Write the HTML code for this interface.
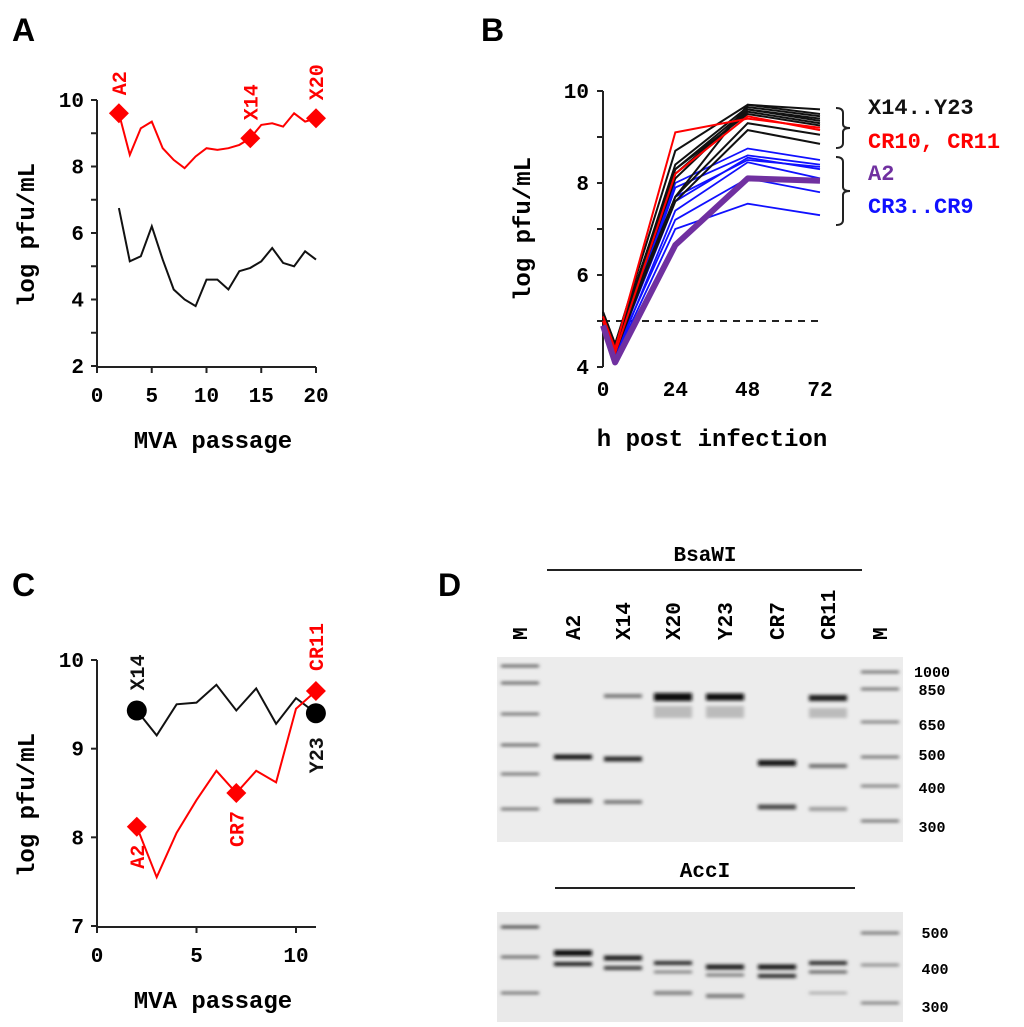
<!DOCTYPE html>
<html><head><meta charset="utf-8"><style>
html,body{margin:0;padding:0;background:#fff;}
svg{display:block;font-family:"Liberation Mono",monospace;font-weight:bold;}
</style></head><body>
<svg id="fig" width="1024" height="1027" viewBox="0 0 1024 1027" xmlns="http://www.w3.org/2000/svg">
<defs><filter id="blur" x="-20%" y="-300%" width="140%" height="700%"><feGaussianBlur stdDeviation="1.8 1.6"/></filter></defs>
<g id="root"></g>
</svg>
<script>
// ---------- Panel A data ----------
const aPassages=[2,3,4,5,6,7,8,9,10,11,12,13,14,15,16,17,18,19,20];
const aRed=[9.6,8.35,9.15,9.35,8.55,8.2,7.95,8.3,8.55,8.5,8.55,8.65,8.85,9.25,9.3,9.2,9.6,9.35,9.45];
const aBlack=[6.75,5.15,5.3,6.2,5.2,4.3,4.0,3.8,4.6,4.6,4.3,4.85,4.95,5.15,5.55,5.1,5.0,5.45,5.2];
const aYTicks=[2,4,6,8,10];
const aXTicks=[0,5,10,15,20];
const aMarkers=[{x:2,label:"A2"},{x:14,label:"X14"},{x:20,label:"X20"}];
// ---------- Panel B data ----------
const bTimes=[0,4,24,48,72];
const bXTicks=[0,24,48,72];
const bYTicks=[4,6,8,10];
const bBlack=[[5.2,4.5,8.7,9.7,9.6],[5.1,4.4,8.4,9.65,9.45],[5.0,4.5,8.3,9.6,9.4],[5.1,4.4,8.2,9.55,9.3],[5.0,4.3,7.7,9.3,9.05],[5.1,4.4,7.6,9.15,8.85],[5.2,4.5,7.7,9.7,9.5],[5.0,4.4,8.1,9.6,9.35],[5.1,4.5,8.3,9.5,9.25]];
const bRed=[[5.1,4.4,9.1,9.4,9.2],[5.0,4.3,8.2,9.45,9.15]];
const bBlue=[[5.0,4.3,8.0,8.75,8.5],[4.9,4.2,7.9,8.6,8.4],[5.0,4.3,7.6,8.55,8.3],[4.9,4.2,7.4,8.45,8.1],[5.0,4.3,7.2,8.1,7.8],[4.9,4.2,7.0,7.55,7.3],[5.0,4.3,7.7,8.5,8.35]];
const bPurple=[4.9,4.1,6.65,8.1,8.05];
const bLimit=5;
// ---------- Panel C data ----------
const cPassages=[2,3,4,5,6,7,8,9,10,11];
const cBlack=[9.43,9.15,9.5,9.52,9.72,9.43,9.68,9.28,9.57,9.4];
const cRed=[8.12,7.55,8.05,8.42,8.75,8.5,8.75,8.62,9.45,9.65];
const cYTicks=[7,8,9,10];
const cXTicks=[0,5,10];
// ---------- Panel D data ----------
const dLanes=["M","A2","X14","X20","Y23","CR7","CR11","M"];
const dTopSizes=["1000","850","650","500","400","300"];
const dBotSizes=["500","400","300"];

const NS="http://www.w3.org/2000/svg";
const root=document.getElementById('root');
function el(tag,attrs,parent,text){const e=document.createElementNS(NS,tag);for(const k in attrs)e.setAttribute(k,attrs[k]);if(text!==undefined)e.textContent=text;(parent||root).appendChild(e);return e;}
function lin(d0,d1,r0,r1){return v=>r0+(v-d0)*(r1-r0)/(d1-d0);}
function path(xs,ys,sx,sy){return xs.map((x,i)=>(i?'L':'M')+sx(x).toFixed(1)+','+sy(ys[i]).toFixed(1)).join(' ');}
function diamond(cx,cy,r){return `M${cx},${cy-r} L${cx+r},${cy} L${cx},${cy+r} L${cx-r},${cy} Z`;}

// ===== Panel A =====
(function(){
const g=el('g',{});


const sx=lin(0,20,97,316), sy=lin(2,10,366,100);
let t=el('text',{x:12,y:41,'font-size':32,'font-family':'Liberation Sans'},g,'A');

let ax=el('path',{d:`M97,100 L97,367 L316,367`,stroke:'#222','stroke-width':2,fill:'none'},g);

for(let v=2;v<=10;v++){el('line',{x1:91,x2:97,y1:sy(v),y2:sy(v),stroke:'#222','stroke-width':2},g);}
aYTicks.forEach(v=>{const e=el('text',{x:84,y:sy(v)+7,'text-anchor':'end','font-size':21},g,String(v));
});
aXTicks.forEach(v=>{el('line',{x1:sx(v),x2:sx(v),y1:367,y2:373,stroke:'#222','stroke-width':2},g);
const e=el('text',{x:sx(v),y:402,'text-anchor':'middle','font-size':21},g,String(v));
});
let xt=el('text',{x:213,y:448,'text-anchor':'middle','font-size':24},g,'MVA passage');

let yt=el('text',{transform:'translate(34,235) rotate(-90)','text-anchor':'middle','font-size':24},g,'log pfu/mL');

let l1=el('path',{d:path(aPassages,aBlack,sx,sy),stroke:'#111','stroke-width':2,fill:'none'},g);

let l2=el('path',{d:path(aPassages,aRed,sx,sy),stroke:'#f00','stroke-width':2,fill:'none'},g);

aMarkers.forEach(m=>{const y=aRed[aPassages.indexOf(m.x)];
const d=el('path',{d:diamond(sx(m.x),sy(y),10),fill:'#f00'},g);

const e=el('text',{transform:`translate(${sx(m.x)+7},${sy(y)-18}) rotate(-90)`,'font-size':20,fill:'#f00'},g,m.label);
});
})();

// ===== Panel B =====
(function(){
const g=el('g',{});


const sx=lin(0,72,603,820), sy=lin(4,10,367,91);
let t=el('text',{x:481,y:41,'font-size':32,'font-family':'Liberation Sans'},g,'B');

let ax=el('path',{d:`M603,91 L603,367`,stroke:'#222','stroke-width':2,fill:'none'},g);

for(let v=4;v<=10;v++){el('line',{x1:597,x2:603,y1:sy(v),y2:sy(v),stroke:'#222','stroke-width':2},g);}
bYTicks.forEach(v=>{const e=el('text',{x:589,y:sy(v)+7,'text-anchor':'end','font-size':21},g,String(v));
});
bXTicks.forEach(v=>{const e=el('text',{x:sx(v),y:396,'text-anchor':'middle','font-size':21},g,String(v));
});
let xt=el('text',{x:712,y:446,'text-anchor':'middle','font-size':24},g,'h post infection');

let yt=el('text',{transform:'translate(530,229) rotate(-90)','text-anchor':'middle','font-size':24},g,'log pfu/mL');

let dl=el('line',{x1:603,x2:820,y1:sy(bLimit),y2:sy(bLimit),stroke:'#222','stroke-width':2,'stroke-dasharray':'7,6'},g);

bBlue.forEach(s=>{const p=el('path',{d:path(bTimes,s,sx,sy),stroke:'#1010ff','stroke-width':1.8,fill:'none'},g);
});
bBlack.forEach(s=>{const p=el('path',{d:path(bTimes,s,sx,sy),stroke:'#111','stroke-width':2,fill:'none'},g);
});
bRed.forEach(s=>{const p=el('path',{d:path(bTimes,s,sx,sy),stroke:'#f00','stroke-width':2,fill:'none'},g);
});
let pp=el('path',{d:path(bTimes,bPurple,sx,sy),stroke:'#7030a0','stroke-width':6,fill:'none','stroke-linejoin':'round'},g);

[[108,148],[157,225]].forEach(b=>{const m=(b[0]+b[1])/2;
const p=el('path',{d:`M836,${b[0]} Q843,${b[0]} 843,${b[0]+5} L843,${m-4} Q843,${m} 850,${m} Q843,${m} 843,${m+4} L843,${b[1]-5} Q843,${b[1]} 836,${b[1]}`,stroke:'#222','stroke-width':2,fill:'none'},g);
});
[["X14..Y23",'#111',114],["CR10, CR11",'#f00',148],["A2",'#7030a0',180],["CR3..CR9",'#1010ff',213]].forEach(l=>{
const e=el('text',{x:868,y:l[2],'font-size':22,fill:l[1]},g,l[0]);
});
})();

// ===== Panel C =====
(function(){
const g=el('g',{});


const sx=lin(0,10,97,296), sy=lin(7,10,926,660);
let t=el('text',{x:12,y:596,'font-size':32,'font-family':'Liberation Sans'},g,'C');

let ax=el('path',{d:`M97,660 L97,927 L316,927`,stroke:'#222','stroke-width':2,fill:'none'},g);

cYTicks.forEach(v=>{el('line',{x1:91,x2:97,y1:sy(v),y2:sy(v),stroke:'#222','stroke-width':2},g);
const e=el('text',{x:84,y:sy(v)+7,'text-anchor':'end','font-size':21},g,String(v));
});
cXTicks.forEach(v=>{el('line',{x1:sx(v),x2:sx(v),y1:927,y2:933,stroke:'#222','stroke-width':2},g);
const e=el('text',{x:sx(v),y:962,'text-anchor':'middle','font-size':21},g,String(v));
});
let xt=el('text',{x:213,y:1008,'text-anchor':'middle','font-size':24},g,'MVA passage');

let yt=el('text',{transform:'translate(34,805) rotate(-90)','text-anchor':'middle','font-size':24},g,'log pfu/mL');

let l1=el('path',{d:path(cPassages,cBlack,sx,sy),stroke:'#111','stroke-width':2,fill:'none'},g);

let l2=el('path',{d:path(cPassages,cRed,sx,sy),stroke:'#f00','stroke-width':2,fill:'none'},g);

const last=cPassages.length-1;
[[0,'X14'],[last,'Y23']].forEach(m=>{const c=el('circle',{cx:sx(cPassages[m[0]]),cy:sy(cBlack[m[0]]),r:10,fill:'#000'},g);
});
[[0,'A2'],[5,'CR7'],[last,'CR11']].forEach(m=>{const d=el('path',{d:diamond(sx(cPassages[m[0]]),sy(cRed[m[0]]),10),fill:'#f00'},g);
});
function vt(x,y,txt,col,anchor,name){const e=el('text',{transform:`translate(${x},${y}) rotate(-90)`,'font-size':20,fill:col,'text-anchor':anchor},g,txt);
}
vt(sx(2)+7,sy(cBlack[0])-20,'X14','#111','start','c-label-x14');
vt(sx(11)+7,sy(cRed[last])-20,'CR11','#f00','start','c-label-cr11');
vt(sx(2)+7,sy(cRed[0])+18,'A2','#f00','end','c-label-a2');
vt(sx(7)+7,sy(cRed[5])+18,'CR7','#f00','end','c-label-cr7');
vt(sx(11)+7,sy(cBlack[last])+24,'Y23','#111','end','c-label-y23');
})();

// ===== Panel D =====
(function(){
const g=el('g',{});


let t=el('text',{x:438,y:596,'font-size':32,'font-family':'Liberation Sans'},g,'D');

const laneX=[520,573,623,673,725,777,828,880];
let e=el('text',{x:705,y:561,'text-anchor':'middle','font-size':21},g,'BsaWI');

el('line',{x1:547,x2:862,y1:570,y2:570,stroke:'#222','stroke-width':2},g);
dLanes.forEach((n,i)=>{const e=el('text',{transform:`translate(${laneX[i]+7},${640}) rotate(-90)`,'font-size':21},g,n);
});
let gel1=el('rect',{x:497,y:657,width:406,height:185,fill:'#ececec'},g);

let gel2=el('rect',{x:497,y:912,width:406,height:110,fill:'#e9e9e9'},g);

const bands=[[0,666,.55,3],[0,683,.55,3],[0,714,.5,3],[0,745,.55,3],[0,774,.5,3],[0,809,.5,3],
[7,672,.5,3],[7,689,.5,3],[7,722,.45,3],[7,757,.5,3],[7,786,.45,3],[7,821,.5,3],
[1,757,.95,5],[1,801,.6,5],[2,696,.5,4],[2,759,.85,5],[2,802,.5,4],
[3,697,1,8],[3,712,.2,12],[4,697,1,7],[4,712,.2,12],
[5,763,.95,6],[5,807,.7,5],[6,698,.9,6],[6,713,.2,10],[6,766,.55,4],[6,809,.35,4],
[0,927,.7,3],[0,957,.55,3],[0,993,.5,3],[7,933,.5,3],[7,965,.4,3],[7,1003,.45,3],
[1,953,1,6],[1,964,.9,4],[2,958,.9,5],[2,968,.75,4],[3,963,.85,4],[3,972,.45,3],[3,993,.45,4],
[4,967,.9,5],[4,975,.5,3],[4,996,.5,4],[5,967,.95,5],[5,976,.85,4],[6,963,.85,4],[6,972,.6,3],[6,993,.25,3]];
bands.forEach(b=>{const c=Math.round(232-225*b[2]);
const r=el('rect',{x:laneX[b[0]]-19,y:b[1]-b[3]/2,width:38,height:b[3],fill:`rgb(${c},${c},${c})`,filter:'url(#blur)'},g);
});
const topY=[672,690,725,755,788,827];
dTopSizes.forEach((s,i)=>{const e=el('text',{x:932,y:topY[i]+5,'text-anchor':'middle','font-size':15},g,s);
});
e=el('text',{x:705,y:877,'text-anchor':'middle','font-size':21},g,'AccI');

el('line',{x1:555,x2:855,y1:888,y2:888,stroke:'#222','stroke-width':2},g);
const botY=[933,969,1007];
dBotSizes.forEach((s,i)=>{const e=el('text',{x:935,y:botY[i]+5,'text-anchor':'middle','font-size':15},g,s);
});
})();
</script>
</body></html>
